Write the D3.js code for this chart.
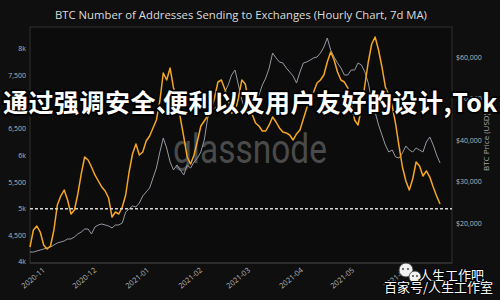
<!DOCTYPE html>
<html><head><meta charset="utf-8">
<script src="https://cdn.jsdelivr.net/npm/d3@7"></script>
<style>
html,body{margin:0;padding:0;background:#0f0f0f;}
svg{display:block;}
</style></head>
<body>
<script>
const dates = [
"2020-10-24","2020-10-26","2020-10-28","2020-10-30",
"2020-11-01","2020-11-03","2020-11-05","2020-11-07","2020-11-09","2020-11-11","2020-11-13","2020-11-15","2020-11-17","2020-11-19","2020-11-21","2020-11-23","2020-11-25","2020-11-27","2020-11-29",
"2020-12-01","2020-12-03","2020-12-05","2020-12-07","2020-12-09","2020-12-11","2020-12-13","2020-12-15","2020-12-17","2020-12-19","2020-12-21","2020-12-23","2020-12-25","2020-12-27","2020-12-29","2020-12-31",
"2021-01-02","2021-01-04","2021-01-06","2021-01-08","2021-01-10","2021-01-12","2021-01-14","2021-01-16","2021-01-18","2021-01-20","2021-01-22","2021-01-24","2021-01-26","2021-01-28","2021-01-30",
"2021-02-01","2021-02-03","2021-02-05","2021-02-07","2021-02-09","2021-02-11","2021-02-13","2021-02-15","2021-02-17","2021-02-19","2021-02-21","2021-02-23","2021-02-25","2021-02-27",
"2021-03-01","2021-03-03","2021-03-05","2021-03-07","2021-03-09","2021-03-11","2021-03-13","2021-03-15","2021-03-17","2021-03-19","2021-03-21","2021-03-23","2021-03-25","2021-03-27","2021-03-29","2021-03-31",
"2021-04-02","2021-04-04","2021-04-06","2021-04-08","2021-04-10","2021-04-12","2021-04-14","2021-04-16","2021-04-18","2021-04-20","2021-04-22","2021-04-24","2021-04-26","2021-04-28","2021-04-30",
"2021-05-02","2021-05-04","2021-05-06","2021-05-08","2021-05-10","2021-05-12","2021-05-14","2021-05-16","2021-05-18","2021-05-20","2021-05-22","2021-05-24","2021-05-26","2021-05-28","2021-05-30",
"2021-06-01","2021-06-03","2021-06-05","2021-06-07","2021-06-09","2021-06-11","2021-06-13","2021-06-15","2021-06-17","2021-06-19","2021-06-21"
];
const addresses = [
4282,4601,4676,4563,4319,4244,4300,4601,5070,5239,5352,5164,4901,4977,5277,5653,5972,5916,5784,5634,
5521,5409,5333,5202,4845,4939,4901,5033,5258,5690,6028,6216,6009,6066,6272,6366,6517,6667,7024,7549,
7418,7643,7268,7099,6704,6348,5972,5840,6009,6272,6554,6648,6742,6855,7080,7380,7418,7249,7080,6798,
6817,7080,7418,7343,7005,6779,6610,6554,6460,6460,6573,6723,6629,6517,6441,6423,6385,6291,6404,6479,
6686,6892,7042,7193,7362,7418,7512,7756,7944,7794,7568,7418,7380,7268,7005,6667,6573,6892,7324,7756,
8094,8226,7981,7662,7287,7136,6930,6592,6178,5784,5521,5352,5559,5878,5803,5615,5709,5596,5409,5239,5089
];
const price = [
13000,13000,13250,13490,13730,13980,14220,14700,15180,15420,15660,16140,16140,16630,17350,17830,18550,18550,17350,19040,
19520,19760,19520,19280,18800,19520,19520,20000,22650,23370,24100,23860,24820,26510,27470,28430,30840,33250,37110,40480,
38070,34700,32770,33980,32770,31570,33980,33250,34700,35660,37110,40000,45300,46750,47710,48190,50120,51570,53250,55660,
56870,53250,49640,47230,46750,48430,49640,50840,53250,54940,57350,60960,59760,58800,58560,57350,56390,55420,53730,56390,
58560,58800,59280,59760,60000,60960,62410,64580,61690,60000,58560,57350,55660,55660,56870,56870,58560,58080,56390,53730,
49640,46750,43620,41210,38800,37110,37590,35900,35660,36870,38560,37590,37110,38070,37590,37110,39520,40720,38800,36390,34460
];
const leftTicks = [4000,4500,5000,5500,6000,6500,7000,7500,8000];
const leftTickLabels = ["4k","4,500","5k","5,500","6k","6,500","7k","7,500","8k"];
const rightTicks = [20000,30000,40000,50000,60000];
const monthTicks = ["2020-11-01","2020-12-01","2021-01-01","2021-02-01","2021-03-01","2021-04-01","2021-05-01","2021-06-01"];
const thresholdValue = 5000;
const titleText = "BTC Number of Addresses Sending to Exchanges (Hourly Chart, 7d MA)";
const rightAxisTitle = "BTC Price (USD)";
const overlayText1 = "通过强调安全、";
const overlayText2 = "便利以及用户友好的设计,Tok";
const watermarkText = "glassnode";
const brandLine1 = "人生工作吧";
const brandLine2 = "百家号/人生工作室";

const W = 500, H = 300;
const plot = {l:30, r:452, t:27, b:263};
const parse = d3.utcParse("%Y-%m-%d");
const fmtMonth = d3.utcFormat("%Y-%m");

const svg = d3.select("body").append("svg").attr("width",W).attr("height",H);
svg.append("rect").attr("width",W).attr("height",H).attr("fill","#0f0f0f");

const x = d3.scaleUtc().domain([parse("2020-10-24"), parse("2021-06-28")]).range([plot.l, plot.r]);
const yL = d3.scaleLinear().domain([4000, 8413]).range([plot.b-1, plot.t]);
const yR = d3.scaleLinear().domain([10600, 67230]).range([plot.b-1, plot.t]);

// frame
svg.append("rect").attr("x",plot.l).attr("y",plot.t).attr("width",plot.r-plot.l).attr("height",plot.b-plot.t)
  .attr("fill","#0c0c0c").attr("stroke","#303030").attr("stroke-width",1);
svg.append("line").attr("x1",plot.l).attr("x2",plot.r).attr("y1",plot.b).attr("y2",plot.b).attr("stroke","#3a3a3a");

const font = "'Open Sans', 'DejaVu Sans', sans-serif";

// title
svg.append("text").attr("x",241).attr("y",19).attr("text-anchor","middle")
  .attr("font-family",font).attr("font-size",11.3).attr("fill","#dcdcdc").text(titleText);

// watermark
svg.append("text").attr("x",250).attr("y",163).attr("text-anchor","middle")
  .attr("font-family","Roboto, 'Open Sans', sans-serif").attr("font-size",40)
  .attr("textLength",154).attr("lengthAdjust","spacingAndGlyphs")
  .attr("fill","#4a4a4a").text(watermarkText);

// left axis labels
const gl = svg.append("g");
gl.selectAll("text").data(leftTicks).join("text")
  .attr("x",26).attr("y",d=>yL(d)).attr("dy","0.35em").attr("text-anchor","end")
  .attr("font-family",font).attr("font-size",7).attr("fill","#b8b8b8")
  .text((d,i)=>leftTickLabels[i]);

// right axis
const axR = d3.axisRight(yR).tickValues(rightTicks).tickSize(0).tickPadding(4)
  .tickFormat(d=>"$"+d3.format(",")(d));
const gr = svg.append("g").attr("transform",`translate(${plot.r},0)`).call(axR);
gr.select(".domain").remove();
gr.selectAll("text").attr("font-family",font).attr("font-size",7).attr("fill","#b8b8b8");

svg.append("text").attr("transform",`translate(489,${142}) rotate(-90)`).attr("text-anchor","middle")
  .attr("font-family",font).attr("font-size",8).attr("fill","#a8a8a8").text(rightAxisTitle);

// x axis labels
const gx = svg.append("g");
gx.selectAll("text").data(monthTicks).join("text")
  .attr("transform",d=>`translate(${x(parse(d))+2},${271}) rotate(-40)`)
  .attr("text-anchor","end")
  .attr("font-family",font).attr("font-size",7.5).attr("fill","#b8b8b8")
  .text(d=>fmtMonth(parse(d)));

// lines
const priceLine = d3.line().x((d,i)=>x(parse(dates[i]))).y(d=>yR(d));
svg.append("path").datum(price).attr("d",priceLine).attr("fill","none")
  .attr("stroke","#9499a3").attr("stroke-width",1).attr("stroke-linejoin","round");

const addrLine = d3.line().x((d,i)=>x(parse(dates[i]))).y(d=>yL(d));
svg.append("path").datum(addresses).attr("d",addrLine).attr("fill","none")
  .attr("stroke","#f5a623").attr("stroke-width",1.5).attr("stroke-linejoin","round");

// threshold dashed line
svg.append("line").attr("x1",plot.l).attr("x2",plot.r).attr("y1",yL(thresholdValue)).attr("y2",yL(thresholdValue))
  .attr("stroke","#d8d8d8").attr("stroke-width",1.3).attr("stroke-dasharray","3,2");

// overlay Chinese text
const cn = "'Noto Sans CJK SC', sans-serif";
const ov = svg.append("text").attr("y",112).attr("font-family",cn).attr("font-size",25).attr("font-weight",700)
  .attr("fill","#ffffff").attr("stroke","#000").attr("stroke-width",3.5).attr("paint-order","stroke")
  .attr("letter-spacing",0.5);
ov.append("tspan").attr("x",3).text(overlayText1);
ov.append("tspan").attr("x",163).text(overlayText2);

// bottom-right brand watermark
const bw = svg.append("g");
bw.append("circle").attr("cx",406).attr("cy",270).attr("r",7).attr("fill","#f2f2f2").attr("stroke","#333").attr("stroke-width",0.8);
bw.append("circle").attr("cx",415).attr("cy",277).attr("r",6).attr("fill","#f2f2f2").attr("stroke","#333").attr("stroke-width",0.8);
[[403,269],[408,269],[413,276],[417,276]].forEach(p=>bw.append("circle").attr("cx",p[0]).attr("cy",p[1]).attr("r",0.9).attr("fill","#333"));
bw.append("text").attr("x",419).attr("y",280).attr("font-family",cn).attr("font-size",13)
  .attr("fill","#fff").attr("stroke","#000").attr("stroke-width",2).attr("paint-order","stroke").text(brandLine1);
bw.append("text").attr("x",384).attr("y",292).attr("font-family",cn).attr("font-size",13)
  .attr("fill","#fff").attr("stroke","#000").attr("stroke-width",2).attr("paint-order","stroke").text(brandLine2);
</script>
</body></html>
